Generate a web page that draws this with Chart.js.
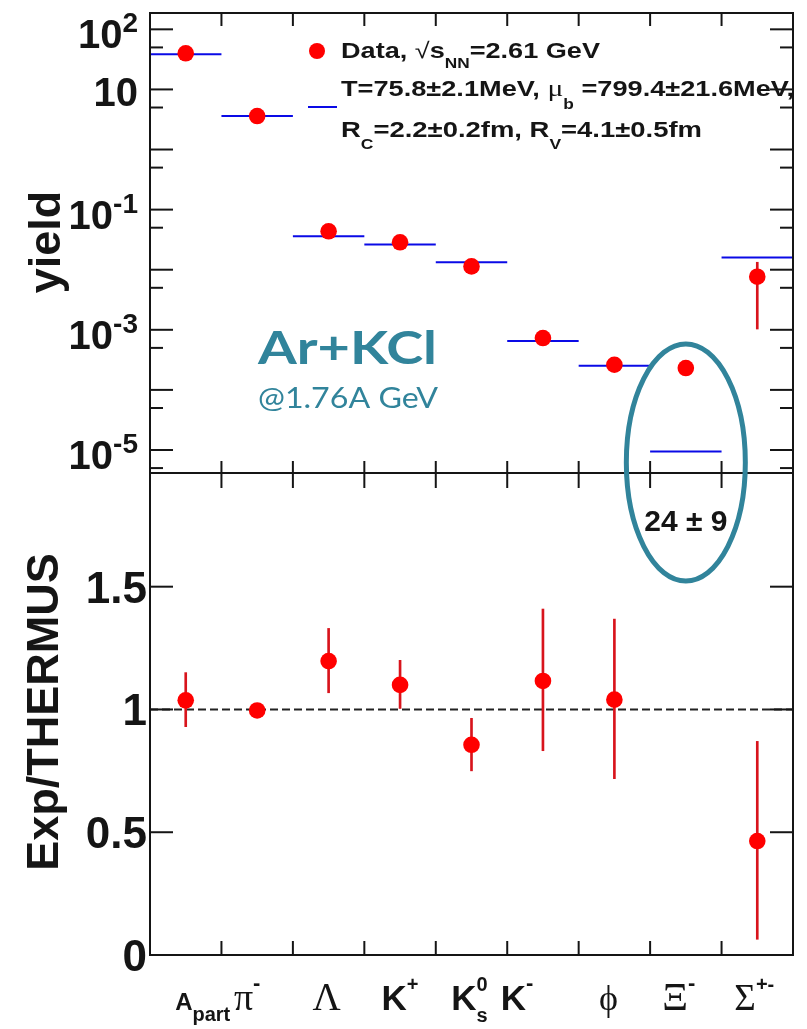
<!DOCTYPE html>
<html>
<head>
<meta charset="utf-8">
<script src="https://cdn.jsdelivr.net/npm/chart.js@4"></script>
<style>
  html, body { margin: 0; padding: 0; background: #fff; }
  #wrap { position: relative; width: 807px; height: 1029px; }
</style>
</head>
<body>
<div id="wrap"><canvas id="thermusChart" width="807" height="1029" style="width:807px;height:1029px"></canvas></div>
<script>
// Particle yields, Ar+KCl @ 1.76A GeV, data vs THERMUS fit
const categories   = ['A_part', 'π-', 'Λ', 'K+', 'K0s', 'K-', 'ϕ', 'Ξ-', 'Σ+-'];
const dataYield    = [39.9, 3.61, 0.0436, 0.0286, 0.01135, 7.3e-4, 2.62e-4, 2.31e-4, 7.65e-3];
const thermusYield = [38.6, 3.62, 0.0360, 0.0262, 0.0133, 6.5e-4, 2.52e-4, 9.4e-6, 0.0160];
const yieldErrLow  = [null, null, null, null, null, null, null, null, 1.03e-3];
const yieldErrHigh = [null, null, null, null, null, null, null, null, 0.0133];
const ratioValues  = [1.037, 0.996, 1.197, 1.10, 0.856, 1.116, 1.04, null, 0.464];
const ratioErrLow  = [0.93, null, 1.068, 1.004, 0.75, 0.832, 0.718, null, 0.064];
const ratioErrHigh = [1.15, null, 1.33, 1.20, 0.964, 1.409, 1.368, null, 0.870];
const xiRatioLabel = '24 ± 9';

// Axis ticks
const yieldMajorTicks = [100, 10, 1, 0.1, 0.01, 1e-3, 1e-4, 1e-5];
const yieldMinorTicks = [50, 5, 0.5, 0.05, 5e-3, 5e-4, 5e-5, 5e-6];
const yieldTickLabels = [['10', '2'], ['10', ''], null, ['10', '-1'], null, ['10', '-3'], null, ['10', '-5']];
const ratioTicks      = [0, 0.5, 1, 1.5];
const ratioTickLabels = ['0', '0.5', '1', '1.5'];

const RED = '#ff0000';
const ERR_RED = '#d8141c';
const BLUE = '#0a0ae6';
const TEAL = '#31849b';
const INK = '#151515';
const SANS = '"Liberation Sans", Arial, sans-serif';
const SERIF = '"Liberation Serif", "Times New Roman", serif';

function font(size, weight, family) {
  return (weight || 'normal') + ' ' + size + 'px ' + (family || SANS);
}

// rich category labels: runs of text with baseline shifts
const B = s => font(s, 'bold');
const G = s => font(s, 'normal', SERIF);
const categoryRuns = [
  [{ text: 'A', font: B(24) }, { text: 'part', font: B(20), dy: 11 }],
  [{ text: 'π', font: G(38) }, { text: '-', font: B(22), dy: -20 }],
  [{ text: 'Λ', font: G(39) }],
  [{ text: 'K', font: B(35) }, { text: '+', font: B(20), dy: -19 }],
  [{ text: 'K', font: B(35) }, { text: '0', font: B(20), dy: -19 }, { text: 's', font: B(20), dy: 12, overlay: true }],
  [{ text: 'K', font: B(35) }, { text: '-', font: B(22), dy: -20 }],
  [{ text: 'ϕ', font: G(36) }],
  [{ text: 'Ξ', font: G(40) }, { text: '-', font: B(22), dy: -20 }],
  [{ text: 'Σ', font: G(37) }, { text: '+-', font: B(20), dy: -19 }]
];
const categoryShift = [17, -10, -2, 0, -2, -26, -6, -7, -3];

function errPairs(lo, hi) {
  return lo.map((v, i) => (v == null || hi[i] == null) ? null : [v, hi[i]]);
}

function layoutRuns(ctx, runs) {
  let x = 0, prevStart = 0;
  const placed = runs.map(r => {
    ctx.font = r.font;
    const w = ctx.measureText(r.text).width;
    const start = r.overlay ? prevStart : x;
    prevStart = start;
    x = Math.max(x, start + w);
    return Object.assign({}, r, { x: start });
  });
  return { placed, width: x };
}

function drawRuns(ctx, runs, x, baseline, opts) {
  opts = opts || {};
  const { placed, width } = layoutRuns(ctx, runs);
  const sx = opts.width ? opts.width / width : 1;
  const total = width * sx;
  let x0 = x;
  if (opts.align === 'center') x0 = x - total / 2;
  else if (opts.align === 'right') x0 = x - total;
  ctx.save();
  ctx.translate(x0, baseline);
  ctx.scale(sx, 1);
  ctx.fillStyle = opts.color || INK;
  ctx.textAlign = 'left';
  ctx.textBaseline = 'alphabetic';
  placed.forEach(r => {
    ctx.font = r.font;
    ctx.fillText(r.text, r.x, r.dy || 0);
  });
  ctx.restore();
}

function line(ctx, x1, y1, x2, y2) {
  ctx.beginPath();
  ctx.moveTo(x1, y1);
  ctx.lineTo(x2, y2);
  ctx.stroke();
}

const panelDecor = {
  id: 'panelDecor',
  beforeDatasetsDraw(chart) {
    const { ctx, chartArea: a } = chart;
    const y1 = chart.scales.yBot.getPixelForValue(1);
    ctx.save();
    ctx.strokeStyle = '#222';
    ctx.lineWidth = 2;
    ctx.setLineDash([8, 4]);
    line(ctx, a.left, y1, a.right, y1);
    ctx.restore();
  },
  afterDatasetsDraw(chart) {
    const { ctx, scales } = chart;
    const x = scales.x, yTop = scales.yTop, yBot = scales.yBot;
    const left = x.left, right = x.right;
    const binW = x.width / categories.length;

    ctx.save();
    ctx.strokeStyle = INK;
    ctx.lineWidth = 2;

    // frames
    ctx.strokeRect(left, yTop.top, right - left, yTop.bottom - yTop.top);
    ctx.strokeRect(left, yBot.top, right - left, yBot.bottom - yBot.top);

    // x ticks at bin edges
    for (let i = 1; i < categories.length; i++) {
      const ex = left + i * binW;
      line(ctx, ex, yTop.top, ex, yTop.top + 13);
      line(ctx, ex, yTop.bottom, ex, yTop.bottom - 12);
      line(ctx, ex, yBot.top, ex, yBot.top + 15);
      line(ctx, ex, yBot.bottom, ex, yBot.bottom - 14);
    }

    // log y ticks (upper panel)
    yieldMajorTicks.forEach(v => {
      const py = yTop.getPixelForValue(v);
      line(ctx, left, py, left + 23, py);
      line(ctx, right, py, right - 23, py);
    });
    yieldMinorTicks.forEach(v => {
      const py = yTop.getPixelForValue(v);
      line(ctx, left, py, left + 13, py);
      line(ctx, right, py, right - 13, py);
    });

    // ratio y ticks (lower panel)
    ratioTicks.forEach(v => {
      if (v === 0) return;
      const py = yBot.getPixelForValue(v);
      line(ctx, left, py, left + 23, py);
      line(ctx, right, py, right - 23, py);
    });
    ctx.restore();

    // tick labels
    yieldMajorTicks.forEach((v, i) => {
      const lab = yieldTickLabels[i];
      if (!lab) return;
      const py = yTop.getPixelForValue(v);
      const runs = [{ text: lab[0], font: B(40) }];
      if (lab[1]) runs.push({ text: lab[1], font: B(28), dy: -16 });
      drawRuns(ctx, runs, 138, py + (lab[1] ? 19 : 17), { align: 'right' });
    });
    ratioTicks.forEach((v, i) => {
      const py = yBot.getPixelForValue(v);
      drawRuns(ctx, [{ text: ratioTickLabels[i], font: B(44) }], 147, py + 16, { align: 'right' });
    });

    // category labels
    categoryRuns.forEach((runs, i) => {
      const cx = x.getPixelForValue(i) + categoryShift[i];
      drawRuns(ctx, runs, cx, 1010, { align: 'center' });
    });

    // axis titles
    ctx.save();
    ctx.fillStyle = INK;
    ctx.font = B(45);
    ctx.textAlign = 'center';
    ctx.textBaseline = 'alphabetic';
    ctx.translate(60, 242);
    ctx.rotate(-Math.PI / 2);
    ctx.fillText('yield', 0, 0);
    ctx.restore();
    ctx.save();
    ctx.fillStyle = INK;
    ctx.font = B(45);
    ctx.textAlign = 'center';
    ctx.translate(58, 712);
    ctx.rotate(-Math.PI / 2);
    ctx.fillText('Exp/THERMUS', 0, 0);
    ctx.restore();

    // legend
    ctx.save();
    ctx.fillStyle = RED;
    ctx.beginPath();
    ctx.arc(317, 51, 8, 0, Math.PI * 2);
    ctx.fill();
    ctx.strokeStyle = BLUE;
    ctx.lineWidth = 2;
    line(ctx, 308, 107, 337, 107);
    ctx.restore();

    drawRuns(ctx, [
      { text: 'Data, ', font: B(22) },
      { text: '√', font: font(22) },
      { text: 's', font: B(22) },
      { text: 'NN', font: B(14), dy: 10 },
      { text: '=2.61 GeV', font: B(22) }
    ], 341, 58, { width: 259 });
    drawRuns(ctx, [
      { text: 'T=75.8±2.1MeV, ', font: B(22) },
      { text: 'μ', font: G(24) },
      { text: 'b', font: B(14), dy: 13 },
      { text: ' =799.4±21.6MeV,', font: B(22) }
    ], 341, 96, { width: 453 });
    drawRuns(ctx, [
      { text: 'R', font: B(22) },
      { text: 'C', font: B(14), dy: 12 },
      { text: '=2.2±0.2fm, R', font: B(22) },
      { text: 'V', font: B(14), dy: 12 },
      { text: '=4.1±0.5fm', font: B(22) }
    ], 341, 137, { width: 361 });

    // collision system annotation
    drawRuns(ctx, [{ text: 'Ar+KCl', font: font(46, 'bold', 'Lato, "Open Sans", sans-serif') }], 258, 364, { width: 179, color: TEAL });
    drawRuns(ctx, [{ text: '@1.76A GeV', font: font(28, 'normal', 'Lato, "Open Sans", sans-serif') }], 258, 408, { width: 180, color: TEAL });

    // Xi highlight: ellipse + off-scale ratio
    const xiX = x.getPixelForValue(7);
    ctx.save();
    ctx.strokeStyle = TEAL;
    ctx.lineWidth = 5;
    ctx.beginPath();
    ctx.ellipse(xiX, 462.5, 59.5, 118.5, 0, 0, Math.PI * 2);
    ctx.stroke();
    ctx.restore();
    drawRuns(ctx, [{ text: xiRatioLabel, font: B(30) }], xiX, 531, { align: 'center' });
  }
};

const ctx = document.getElementById('thermusChart').getContext('2d');
const chart = new Chart(ctx, {
  type: 'line',
  data: {
    labels: categories,
    datasets: [
      {
        label: 'Data',
        yAxisID: 'yTop',
        data: dataYield,
        showLine: false,
        pointRadius: 8.3,
        pointBackgroundColor: RED,
        pointBorderWidth: 0,
        order: 0
      },
      {
        label: 'THERMUS',
        yAxisID: 'yTop',
        data: thermusYield,
        showLine: false,
        pointStyle: 'line',
        pointRadius: c => c.chart.scales.x.width / 18,
        pointBorderColor: BLUE,
        pointBorderWidth: 2,
        order: 1
      },
      {
        type: 'bar',
        label: 'yield error',
        yAxisID: 'yTop',
        data: errPairs(yieldErrLow, yieldErrHigh),
        barThickness: 2,
        grouped: false,
        backgroundColor: ERR_RED,
        borderWidth: 0,
        order: 2
      },
      {
        label: 'Exp/THERMUS',
        yAxisID: 'yBot',
        data: ratioValues,
        showLine: false,
        pointRadius: 8.3,
        pointBackgroundColor: RED,
        pointBorderWidth: 0,
        order: 0
      },
      {
        type: 'bar',
        label: 'ratio error',
        yAxisID: 'yBot',
        data: errPairs(ratioErrLow, ratioErrHigh),
        barThickness: 2,
        grouped: false,
        backgroundColor: ERR_RED,
        borderWidth: 0,
        order: 2
      }
    ]
  },
  options: {
    responsive: false,
    maintainAspectRatio: false,
    devicePixelRatio: 1,
    animation: false,
    events: [],
    layout: { padding: { left: 150, right: 14, top: 13, bottom: 74 } },
    plugins: { legend: { display: false }, tooltip: { enabled: false } },
    scales: {
      x: { type: 'category', offset: true, display: false },
      yTop: {
        type: 'logarithmic',
        position: 'left',
        min: 4.14e-6,
        max: 187,
        stack: 'panels',
        stackWeight: 460,
        weight: 2,
        display: false
      },
      yBot: {
        type: 'linear',
        position: 'left',
        min: 0,
        max: 1.963,
        stack: 'panels',
        stackWeight: 482,
        weight: 1,
        display: false
      }
    }
  },
  plugins: [panelDecor]
});
</script>
</body>
</html>
